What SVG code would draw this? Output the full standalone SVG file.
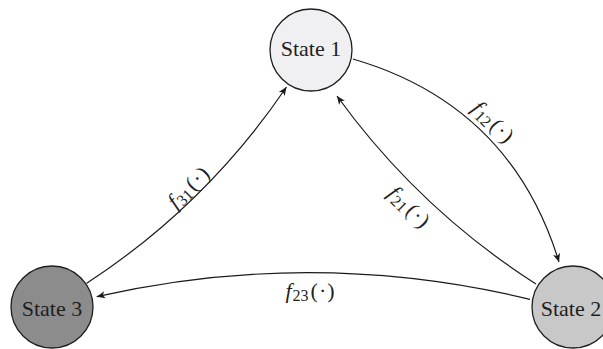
<svg xmlns="http://www.w3.org/2000/svg" width="603" height="349" viewBox="0 0 603 349">
  <defs>
    <marker id="arrow" markerUnits="userSpaceOnUse" markerWidth="12" markerHeight="10" viewBox="-10 -5 12 10" refX="0" refY="0" orient="auto">
      <path d="M0,0 L-8.5,-3.6 L-6.2,0 L-8.5,3.6 Z" fill="#1a1a1a"/>
    </marker>
  </defs>
  <style>
    .node { stroke: #1f1f1f; stroke-width: 1.3; }
    .ntext { font-family: "Liberation Serif", "DejaVu Serif", serif; font-size: 22px; fill: #1f1f1f; text-anchor: middle; }
    .edge { fill: none; stroke: #1a1a1a; stroke-width: 1.2; marker-end: url(#arrow); }
    .lbl { font-family: "Liberation Serif", "DejaVu Serif", serif; font-size: 22px; fill: #1f1f1f; text-anchor: middle; }
    .it { font-style: italic; }
    .sub { font-size: 16px; }
  </style>
  <rect width="603" height="349" fill="#ffffff"/>

  <g id="connectors">
    <path id="e12" class="edge" d="M353,59 Q510.8,105 559,262"/>
    <path id="e21" class="edge" d="M536,284 Q418.6,208.9 337,96"/>
    <path id="e31" class="edge" d="M86.7,283.3 Q206.2,205.2 286.5,87"/>
    <path id="e23" class="edge" d="M530,299.3 Q313.4,247.4 96.7,296.7"/>
  </g>

  <g id="edge-labels">
    <text class="lbl" transform="translate(488,127) rotate(44.6)"><tspan class="it">f</tspan><tspan class="sub" dx="1" dy="3">12</tspan><tspan dx="2" dy="-3">(</tspan><tspan dx="1">·</tspan><tspan dx="1">)</tspan></text>
    <text class="lbl" transform="translate(404,212) rotate(44.5)"><tspan class="it">f</tspan><tspan class="sub" dx="1" dy="3">21</tspan><tspan dx="2" dy="-3">(</tspan><tspan dx="1">·</tspan><tspan dx="1">)</tspan></text>
    <text class="lbl" transform="translate(193.4,192.5) rotate(-44.5)"><tspan class="it">f</tspan><tspan class="sub" dx="1" dy="3">31</tspan><tspan dx="2" dy="-3">(</tspan><tspan dx="1">·</tspan><tspan dx="1">)</tspan></text>
    <text class="lbl" transform="translate(310,297.5)"><tspan class="it">f</tspan><tspan class="sub" dx="1" dy="3">23</tspan><tspan dx="2" dy="-3">(</tspan><tspan dx="1">·</tspan><tspan dx="1">)</tspan></text>
  </g>

  <g id="state1">
    <circle class="node" cx="311" cy="50" r="41" fill="#f0f0f2"/>
    <text class="ntext" x="311" y="56">State 1</text>
  </g>
  <g id="state2">
    <circle class="node" cx="573" cy="307" r="41" fill="#c8c8c8"/>
    <text class="ntext" x="571" y="316">State 2</text>
  </g>
  <g id="state3">
    <circle class="node" cx="52" cy="307" r="41" fill="#8c8c8c"/>
    <text class="ntext" x="52" y="316">State 3</text>
  </g>
</svg>
